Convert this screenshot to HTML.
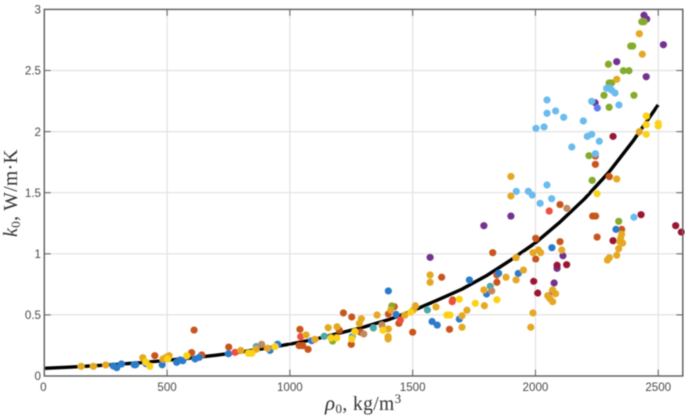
<!DOCTYPE html>
<html lang="en">
<head>
<meta charset="utf-8">
<title>Thermal conductivity vs density</title>
<style>
html,body{margin:0;padding:0;background:#fff;width:685px;height:418px;overflow:hidden}
svg{display:block}
.tick{font-family:"Liberation Sans",sans-serif;font-size:11.6px;fill:#4a4a4a}
.axis-title{font-family:"Liberation Serif",serif;font-size:19.5px;fill:#333;letter-spacing:0.4px}
</style>
</head>
<body>
<svg id="chart" width="685" height="418" viewBox="0 0 685 418" xmlns="http://www.w3.org/2000/svg">
<defs><filter id="soft" x="-5%" y="-5%" width="110%" height="110%"><feGaussianBlur stdDeviation="0.45"/></filter></defs>
<g id="root" filter="url(#soft)">
<g id="grid"></g>
<g id="curve"></g>
<g id="points"></g>
<g id="axes"></g>
<text class="axis-title" x="325" y="410"><tspan font-style="italic" font-size="21">ρ</tspan><tspan font-size="13" dy="3">0</tspan><tspan dy="-3">, kg/m</tspan><tspan font-size="13" dy="-7">3</tspan></text>
<text class="axis-title" transform="translate(17,237) rotate(-90)" x="0" y="0"><tspan font-style="italic" font-size="20">k</tspan><tspan font-size="13" dy="3">0</tspan><tspan dy="-3">, W/m·K</tspan></text>
</g>
</svg>
<script>
const xTicks=[0,500,1000,1500,2000,2500];
const xTickLabels=["0","500","1000","1500","2000","2500"];
const yTicks=[0,0.5,1,1.5,2,2.5,3];
const yTickLabels=["0","0.5","1","1.5","2","2.5","3"];

const curveRho=[0,100,200,300,400,500,600,700,800,900,1000,1100,1200,1300,1400,1500,1600,1700,1800,1900,2000,2100,2200,2300,2400,2500];
const curveK=[0.0625,0.072,0.083,0.096,0.11,0.128,0.148,0.17,0.196,0.227,0.261,0.30,0.35,0.40,0.46,0.534,0.62,0.71,0.82,0.95,1.09,1.26,1.45,1.67,1.93,2.22];

const rustX=[610,450,600,641,751,1041,1038,1052,1074,1218,1252,1201,1250,1288,1401,1425,1444,1500,1650,1663,1618,1826,1843,1843,2001,2001,2100,2100,2233,2245,2251,2351,2244,2244,2301];
const rustY=[0.376,0.166,0.191,0.172,0.237,0.382,0.248,0.248,0.218,0.516,0.483,0.376,0.259,0.358,0.507,0.567,0.431,0.358,0.382,0.622,0.808,1.009,0.827,0.767,1.127,0.957,1.403,1.099,1.309,1.309,1.137,1.2,1.732,1.8,1.631];

const blueX=[281,295,314,366,372,414,480,539,553,564,614,631,750,919,950,1089,1401,1432,1579,1600,1690,1731,1801,1850,1930,2067,2328];
const blueY=[0.082,0.068,0.098,0.092,0.092,0.101,0.092,0.112,0.131,0.125,0.139,0.153,0.182,0.21,0.26,0.289,0.696,0.505,0.446,0.417,0.466,0.786,0.671,0.84,0.839,1.05,1.2];

const tealX=[863,1140,1254,1340,1560,1816];
const tealY=[0.241,0.325,0.322,0.393,0.54,0.734];

const tanX=[885,1301,1375,1822,2128];
const tanY=[0.259,0.344,0.417,0.696,1.372];

const redX=[777,1044,1450,1661,2056];
const redY=[0.194,0.322,0.458,0.608,1.35];

const purpleX=[1571,1790,1900,2112,2088,2076,2070,2442,2453,2521,2331,2451,2243];
const purpleY=[0.971,1.23,1.309,0.984,0.881,0.761,0.69,2.952,2.921,2.711,2.572,2.449,2.236];

const maroonX=[2430,2571,2594,2316,2088,2127,1993,2009,2316];
const maroonY=[1.32,1.23,1.178,1.107,0.906,0.911,0.775,0.679,1.961];

const greenX=[2433,2442,2388,2396,2297,2358,2381,2300,2310,2279,2401,2300,2218,2231,2339,1174,1415];
const greenY=[2.899,2.899,2.7,2.7,2.551,2.498,2.498,2.398,2.398,2.297,2.297,2.199,1.803,1.601,1.266,0.286,0.573];

const skyX=[2047,2047,2082,2115,2002,2035,2195,2229,2290,2303,2310,2324,2340,2211,2229,2260,2148,2244,2047,1922,1971,1987,2019,2066,2401];
const skyY=[2.259,2.15,2.169,2.117,2.027,2.038,2.087,2.248,2.354,2.354,2.34,2.316,2.218,1.961,1.978,1.921,1.874,1.819,1.563,1.511,1.511,1.481,1.413,1.451,1.299];

const periwinkleX=[2252];
const periwinkleY=[2.193];

const goldX=[150,200,250,401,483,508,496,800,862,909,1066,1102,1156,1192,1283,1291,1355,1411,1401,1400,1400,1468,1511,1503,1595,1701,1701,1721,1571,1571,1792,1790,1880,1921,1951,1921,1990,2012,2021,2107,1990,1981,2050,2059,2070,2082,2070,2293,2301,2331,2339,2344,2355,2351,2347,1900,1900,2331,2423,2331,2423,2435];
const goldY=[0.079,0.079,0.09,0.15,0.139,0.166,0.153,0.209,0.218,0.227,0.336,0.30,0.395,0.403,0.431,0.469,0.499,0.54,0.385,0.322,0.303,0.497,0.575,0.54,0.565,0.399,0.493,0.538,0.827,0.767,0.575,0.704,0.808,0.786,0.867,0.968,1.009,1.031,1.009,1.031,0.516,0.399,0.657,0.633,0.608,0.673,0.704,0.949,0.968,0.988,1.042,1.099,1.088,1.16,1.129,1.633,1.473,1.612,1.999,2.428,2.801,2.633];

const yellowX=[413,430,502,580,831,845,939,1167,1191,1252,1265,1379,1492,1639,1652,1690,1755,1843,2251,2451,2451,2451,2500,2500];
const yellowY=[0.115,0.079,0.139,0.166,0.186,0.186,0.24,0.311,0.311,0.303,0.363,0.374,0.521,0.499,0.499,0.628,0.595,0.624,1.492,2.128,2.056,1.978,2.068,2.046];

const seriesList=[
  {key:"rust",xs:rustX,ys:rustY,color:"#c8561a"},
  {key:"blue",xs:blueX,ys:blueY,color:"#2a7bc8"},
  {key:"teal",xs:tealX,ys:tealY,color:"#4ea8a8"},
  {key:"tan",xs:tanX,ys:tanY,color:"#c08a5e"},
  {key:"red",xs:redX,ys:redY,color:"#ee5040"},
  {key:"purple",xs:purpleX,ys:purpleY,color:"#73308f"},
  {key:"maroon",xs:maroonX,ys:maroonY,color:"#9b1530"},
  {key:"green",xs:greenX,ys:greenY,color:"#84ab2c"},
  {key:"sky",xs:skyX,ys:skyY,color:"#6bbcee"},
  {key:"periwinkle",xs:periwinkleX,ys:periwinkleY,color:"#5f7cf0"},
  {key:"gold",xs:goldX,ys:goldY,color:"#e5a823"},
  {key:"yellow",xs:yellowX,ys:yellowY,color:"#fbd214"}
];

const NS="http://www.w3.org/2000/svg";
const plot={left:44.3,right:682.8,top:9.4,bottom:376,xMax:2600,yMax:3};
function xScale(v){return plot.left+(v/plot.xMax)*(plot.right-plot.left);}
function yScale(v){return plot.bottom-(v/plot.yMax)*(plot.bottom-plot.top);}
function make(tag,attrs,parent){
  const el=document.createElementNS(NS,tag);
  for(const k in attrs){el.setAttribute(k,attrs[k]);}
  parent.appendChild(el);
  return el;
}
const gridLayer=document.getElementById("grid");
const axesLayer=document.getElementById("axes");
const curveLayer=document.getElementById("curve");
const pointLayer=document.getElementById("points");

xTicks.forEach(function(t,i){
  const x=xScale(t);
  if(t>0){
    const g=make("line",{x1:x,x2:x,y1:plot.top,y2:plot.bottom,stroke:"#e2e2e2","stroke-width":1.2},gridLayer);
    
    
    const t1=make("line",{x1:x,x2:x,y1:plot.bottom,y2:plot.bottom-6.5,stroke:"#666","stroke-width":1.1},axesLayer);
    
    
    const t2=make("line",{x1:x,x2:x,y1:plot.top,y2:plot.top+6.5,stroke:"#666","stroke-width":1.1},axesLayer);
    
    
  }
  const lab=make("text",{x:t===0?x-1:x,y:391,"text-anchor":"middle",class:"tick"},axesLayer);
  
  
  lab.textContent=xTickLabels[i];
});
yTicks.forEach(function(t,i){
  const y=yScale(t);
  if(t>0&&t<plot.yMax){
    const g=make("line",{x1:plot.left,x2:plot.right,y1:y,y2:y,stroke:"#e2e2e2","stroke-width":1.2},gridLayer);
    
    
    const t1=make("line",{x1:plot.left,x2:plot.left+6.5,y1:y,y2:y,stroke:"#666","stroke-width":1.1},axesLayer);
    
    
    const t2=make("line",{x1:plot.right,x2:plot.right-6.5,y1:y,y2:y,stroke:"#666","stroke-width":1.1},axesLayer);
    
    
  }
  const lab=make("text",{x:41,y:y+4.2,"text-anchor":"end",class:"tick"},axesLayer);
  
  
  lab.textContent=yTickLabels[i];
});
const frame=make("rect",{x:plot.left,y:plot.top,width:plot.right-plot.left,height:plot.bottom-plot.top,fill:"none",stroke:"#5c5c5c","stroke-width":1.4},axesLayer);



const curvePts=curveRho.map(function(r,i){return xScale(r).toFixed(2)+","+yScale(curveK[i]).toFixed(2);}).join(" ");
const fit=make("polyline",{points:curvePts,fill:"none",stroke:"#000","stroke-width":3.4,"stroke-linejoin":"round"},curveLayer);



seriesList.forEach(function(s){
  const g=make("g",{fill:s.color},pointLayer);
  
  
  s.xs.forEach(function(v,i){
    const c=make("circle",{cx:xScale(v),cy:yScale(s.ys[i]),r:3.6},g);
    
    
  });
});
</script>
</body>
</html>
